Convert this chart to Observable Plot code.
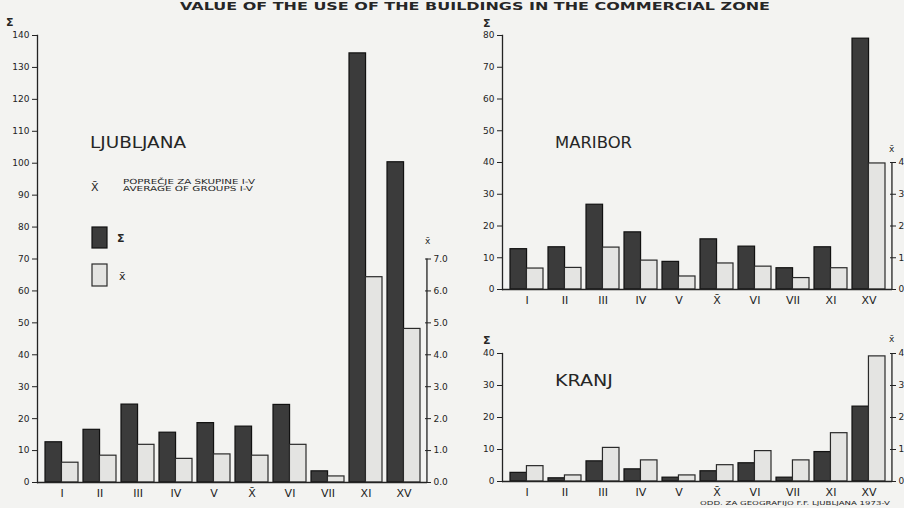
<!DOCTYPE html>
<html>
<head>
<meta charset="utf-8">
<script src="https://cdn.jsdelivr.net/npm/d3@7"></script>
<script src="https://cdn.jsdelivr.net/npm/@observablehq/plot@0.6"></script>
<style>
  html, body { margin: 0; padding: 0; background: #f3f3f1; overflow: hidden; }
  #page { position: relative; width: 904px; height: 508px; overflow: hidden; background: #f3f3f1; }
  .panel { position: absolute; }
  #overlay { position: absolute; left: 0; top: 0; pointer-events: none; }
  #overlay text { font-family: "DejaVu Sans", sans-serif; fill: #262626; }
</style>
</head>
<body>
<div id="page">
  <div class="panel" id="lj" style="left:0px;top:0px"></div>
  <div class="panel" id="mb" style="left:465px;top:0px"></div>
  <div class="panel" id="kr" style="left:465px;top:320px"></div>
  <svg id="overlay" width="904" height="508"></svg>
</div>
<script>
// ---- data ----
const categories = ["I", "II", "III", "IV", "V", "X̄", "VI", "VII", "XI", "XV"];

const ljubljanaSum  = [12.6, 16.5, 24.4, 15.6, 18.6, 17.5, 24.3, 3.5, 134.4, 100.3];
const ljubljanaMean = [0.62, 0.84, 1.18, 0.74, 0.88, 0.84, 1.18, 0.19, 6.43, 4.81];

const mariborSum  = [12.7, 13.3, 26.7, 18.0, 8.7, 15.8, 13.5, 6.7, 13.3, 79.0];
const mariborMean = [0.66, 0.68, 1.32, 0.91, 0.41, 0.82, 0.72, 0.36, 0.67, 3.97];

const kranjSum  = [2.7, 1.0, 6.3, 3.8, 1.2, 3.2, 5.7, 1.2, 9.2, 23.4];
const kranjMean = [0.48, 0.19, 1.05, 0.66, 0.19, 0.51, 0.95, 0.66, 1.51, 3.91];

const ljSumTicks = d3.range(0, 141, 10);
const ljMeanTicks = d3.range(0, 71, 10);   // x̄ 0.0 … 7.0 on the Σ scale (×10)
const mbSumTicks = d3.range(0, 81, 10);
const mbMeanTicks = d3.range(0, 41, 10);   // x̄ 0 … 4
const krSumTicks = d3.range(0, 41, 10);
const krMeanTicks = d3.range(0, 41, 10);   // x̄ 0 … 4

const DARK = "#3b3b3b";
const LIGHT = "#e4e4e2";
const INK = "#232323";
const PAD_IN = 0.14, PAD_OUT = 0.17;

function panel({sum, mean, yMax, sumTicks, meanTicks, meanFormat, width, height, margin}) {
  const rows = categories.map((c, i) => ({cat: c, sum: sum[i], mean: mean[i]}));
  const n = categories.length;
  const step = (width - margin[0] - margin[1]) / (n - PAD_IN + 2 * PAD_OUT);
  const bw = step * (1 - PAD_IN);
  const half = bw / 2;
  const edge = step * PAD_OUT + bw / 2;   // from last band centre to the frame's right edge
  return Plot.plot({
    width, height,
    marginLeft: margin[0], marginRight: margin[1], marginTop: margin[2], marginBottom: margin[3],
    style: {background: "transparent", fontFamily: "DejaVu Sans, sans-serif", fontSize: "9px", color: INK},
    x: {domain: categories, paddingInner: PAD_IN, paddingOuter: PAD_OUT},
    y: {domain: [0, yMax]},
    marks: [
      Plot.barY(rows, {x: "cat", y: "sum", insetRight: half, fill: DARK, stroke: "#111", strokeWidth: 1.2}),
      Plot.barY(rows, {x: "cat", y: d => d.mean * 10, insetLeft: half, fill: LIGHT, stroke: "#2a2a2a", strokeWidth: 1.2}),
      Plot.frame({anchor: "left", stroke: INK, strokeWidth: 1.3}),
      Plot.ruleX([categories[n - 1]], {y1: 0, y2: d3.max(meanTicks), dx: edge, stroke: INK, strokeWidth: 1.3}),
      Plot.ruleY([0], {stroke: INK, strokeWidth: 1.3}),
      Plot.axisY({anchor: "left", ticks: sumTicks, tickSize: 5, tickPadding: 3, label: null, tickFormat: d => d}),
      Plot.axisY({anchor: "right", ticks: meanTicks, tickSize: 3, tickPadding: 3, label: null, tickFormat: meanFormat}),
      Plot.axisY({anchor: "right", ticks: meanTicks, tickSize: -3, label: null, tickFormat: () => ""}),
      Plot.axisX({tickSize: 0, tickPadding: 7, label: null, fontSize: 11})
    ]
  });
}

document.getElementById("lj").append(panel({
  sum: ljubljanaSum, mean: ljubljanaMean, yMax: 140,
  sumTicks: ljSumTicks, meanTicks: ljMeanTicks, meanFormat: d => (d / 10).toFixed(1),
  width: 460, height: 508, margin: [37, 33, 35, 26]
}));
document.getElementById("mb").append(panel({
  sum: mariborSum, mean: mariborMean, yMax: 80,
  sumTicks: mbSumTicks, meanTicks: mbMeanTicks, meanFormat: d => String(d / 10),
  width: 439, height: 307, margin: [37, 12, 35, 18]
}));
document.getElementById("kr").append(panel({
  sum: kranjSum, mean: kranjMean, yMax: 40,
  sumTicks: krSumTicks, meanTicks: krMeanTicks, meanFormat: d => String(d / 10),
  width: 439, height: 179, margin: [37, 12, 33, 18]
}));

// ---- overlay texts & legend ----
const svg = d3.select("#overlay");
function txt(x, y, s, opts = {}) {
  const t = svg.append("text").attr("x", x).attr("y", y).text(s)
    .attr("font-size", opts.size || 10)
    .attr("font-weight", opts.weight || "normal")
    .attr("text-anchor", opts.anchor || "start");
  if (opts.len) t.attr("textLength", opts.len).attr("lengthAdjust", "spacingAndGlyphs");
  return t;
}
txt(180, 10, "VALUE OF THE USE OF THE BUILDINGS IN THE COMMERCIAL ZONE", {size: 10, weight: "bold", len: 590});

txt(6, 26, "Σ", {size: 11, weight: "bold"});
txt(483, 27, "Σ", {size: 11, weight: "bold"});
txt(483, 344, "Σ", {size: 11, weight: "bold"});
txt(425, 244, "x̄", {size: 9});
txt(889, 152, "x̄", {size: 9});
txt(889, 342, "x̄", {size: 9});

txt(90, 148, "LJUBLJANA", {size: 15, len: 96});
txt(555, 148, "MARIBOR", {size: 15, len: 77});
txt(555, 386, "KRANJ", {size: 15, len: 58});

txt(91, 191, "X̄", {size: 11});
txt(123, 184, "POPREČJE ZA SKUPINE I-V", {size: 7, len: 132});
txt(123, 191, "AVERAGE OF GROUPS I-V", {size: 7, len: 130});

svg.append("rect").attr("x", 92).attr("y", 227).attr("width", 15).attr("height", 21)
  .attr("fill", DARK).attr("stroke", "#111").attr("stroke-width", 1.2);
txt(117, 242, "Σ", {size: 11, weight: "bold"});
svg.append("rect").attr("x", 92).attr("y", 264).attr("width", 15).attr("height", 22)
  .attr("fill", LIGHT).attr("stroke", "#2a2a2a").attr("stroke-width", 1.2);
txt(119, 280, "x̄", {size: 11});

txt(700, 505, "ODD. ZA GEOGRAFIJO F.F. LJUBLJANA 1973-V", {size: 5.5, len: 190});
</script>
</body>
</html>
